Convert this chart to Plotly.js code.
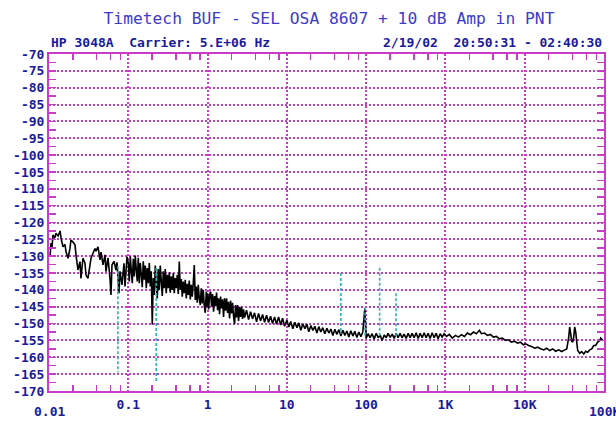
<!DOCTYPE html>
<html><head><meta charset="utf-8">
<script src="https://cdn.plot.ly/plotly-3.0.1.min.js"></script>
<style>html,body{margin:0;padding:0;background:#fff}#chart{width:616px;height:421px}</style>
</head><body><div id="chart"></div>
<script>
// Offset frequency (Hz) of the measured phase-noise trace
const noiseFreq = [
0.0103,0.0106,0.0109,0.0112,0.0119,0.0122,0.0130,0.0138,0.0142,0.0150,
0.0159,0.0164,0.0174,0.0184,0.0189,0.0201,0.0213,0.0219,0.0232,0.0246,
0.0253,0.0268,0.0284,0.0293,0.0310,0.0329,0.0339,0.0359,0.0380,0.0391,
0.0415,0.0440,0.0453,0.0480,0.0509,0.0523,0.0555,0.0588,0.0605,0.0623,
0.0660,0.0700,0.0720,0.0763,0.0786,0.0833,0.0883,0.0909,0.0963,
0.1000,0.1030,0.1060,0.1091,0.1123,0.1156,0.1190,0.1225,0.1261,0.1298,
0.1337,0.1376,0.1417,0.1458,0.1501,0.1545,0.1591,0.1638,0.1687,0.1736,
0.1787,0.1840,0.1894,0.1950,0.2007,0.2066,0.2128,0.2190,0.2255,0.2321,
0.2389,0.2460,0.2532,0.2607,0.2684,0.2763,0.2844,0.2928,0.3014,0.3103,
0.3195,0.3289,0.3386,0.3485,0.3589,0.3693,0.3803,0.3914,0.4031,0.4148,
0.4272,0.4396,0.4527,0.4659,0.4798,0.4937,0.5085,0.5233,0.5389,0.5546,
0.5711,0.5877,0.6052,0.6229,0.6414,0.6601,0.6798,0.6996,0.7204,0.7414,
0.7634,0.7857,0.8091,0.8327,0.8575,0.8825,0.9088,0.9352,0.9630,0.9911,
1.000,1.030,1.060,1.091,1.123,1.156,1.190,1.225,1.261,1.298,
1.337,1.376,1.417,1.458,1.501,1.545,1.591,1.638,1.687,1.736,
1.787,1.840,1.894,1.950,2.007,2.066,2.128,2.190,2.255,2.321,
2.389,2.460,2.532,2.607,2.684,2.763,2.844,2.928,
3.10,3.29,3.49,3.69,3.91,4.15,4.40,4.66,4.94,5.23,
5.55,5.88,6.23,6.60,7.00,7.41,7.86,8.33,8.83,9.35,10.0,
10.6,11.2,11.9,12.6,13.4,14.2,15.0,15.9,16.9,17.9,
18.9,20.1,21.3,22.6,23.9,25.3,26.8,28.4,30.1,32.0,
33.9,35.9,38.0,40.3,42.7,45.3,48.0,50.9,53.9,57.1,
60.5,64.1,68.0,72.0,76.3,80.9,85.8,90.9,96.3,100,
106,112,119,126,134,142,150,159,169,
179,189,201,213,226,239,253,268,284,301,
320,339,359,380,403,427,453,480,509,539,
571,605,641,680,720,763,809,858,909,963,
1030,1120,1220,1340,1460,1590,1740,1890,2070,2260,
2460,2680,2840,3100,3390,3690,4030,4400,4800,5230,
5710,6230,6800,7410,8090,8830,9630,
10300,11200,12200,13400,14600,15900,17400,18900,20700,22600,
24600,26800,29300,32000,33900,35900,36900,38000,39100,40300,
41500,42700,44000,45300,46600,49400,52300,55500,58800,62300,
66000,70000,74100,78600,83300,88300,90900,96300
];
// Phase noise L(f), dBc/Hz
const noiseDb = [
-130.1,-126.1,-127.7,-123.7,-124.5,-123.2,-124.0,-122.5,-124.7,-127.2,
-126.5,-128.7,-130.6,-127.7,-125.2,-125.8,-126.7,-129.6,-134.1,-131.6,
-136.6,-130.6,-132.0,-135.6,-136.6,-132.6,-130.6,-129.1,-127.7,-128.5,
-127.2,-131.1,-128.8,-132.6,-129.6,-134.6,-130.5,-136.6,-141.5,-132.6,
-131.5,-134.1,-131.8,-141.0,-134.5,-138.5,-132.1,-139.0,-130.1,
-132.0,-137.5,-130.0,-134.2,-138.0,-130.8,-136.0,-129.8,-134.0,-137.5,
-130.5,-138.0,-132.0,-135.5,-139.2,-131.5,-137.0,-132.8,-139.5,-133.5,
-138.0,-132.0,-139.0,-134.5,-150.3,-136.5,-141.5,-132.8,-138.5,-142.5,
-133.8,-140.0,-132.8,-137.5,-141.8,-134.5,-139.5,-133.8,-141.0,-135.5,
-139.5,-134.8,-140.8,-136.0,-140.0,-135.0,-141.0,-136.5,-139.5,-135.5,
-141.2,-131.6,-140.0,-136.8,-142.0,-137.5,-141.0,-137.0,-142.5,-138.2,
-141.5,-137.2,-142.8,-138.5,-142.0,-138.0,-132.6,-143.0,-139.0,-143.8,
-138.5,-142.5,-144.5,-139.5,-144.0,-140.0,-144.8,-146.8,-140.5,-145.0,
-141.0,-145.8,-141.5,-140.5,-145.0,-141.2,-146.5,-141.8,-144.8,-140.8,
-146.0,-142.5,-147.2,-142.0,-145.5,-142.8,-148.0,-142.5,-146.2,-142.5,
-146.8,-143.5,-148.5,-143.2,-147.0,-143.8,-147.8,-150.2,-144.5,-148.2,
-144.5,-149.2,-145.0,-148.0,-145.0,-148.6,-145.8,-148.2,
-146.0,-148.8,-146.5,-148.6,-146.8,-149.5,-147.0,-149.2,-147.3,-149.6,
-147.5,-149.7,-147.8,-150.0,-148.0,-150.2,-148.0,-150.4,-148.4,-150.8,-149.0,
-151.0,-149.4,-151.5,-149.6,-151.2,-149.8,-152.0,-150.1,-151.5,-150.2,
-152.4,-150.6,-152.0,-150.8,-152.8,-150.9,-152.5,-151.2,-153.0,-151.4,
-152.8,-151.6,-153.5,-151.7,-153.2,-151.8,-153.7,-152.0,-153.5,-152.2,
-154.0,-152.1,-153.7,-152.3,-154.1,-152.5,-153.9,-152.4,-145.5,-154.3,
-153.0,-154.2,-153.0,-154.6,-152.9,-154.2,-153.4,-155.0,-153.4,
-154.2,-152.9,-154.1,-153.1,-154.4,-152.9,-154.2,-152.9,-154.2,-153.1,
-154.4,-152.9,-154.2,-152.9,-154.2,-152.7,-154.4,-152.9,-154.2,-152.7,
-154.2,-152.9,-154.4,-152.7,-154.2,-152.9,-154.5,-153.0,-154.0,-153.0,
-153.8,-153.2,-154.3,-153.5,-154.0,-153.3,-153.8,-152.8,-153.3,-152.5,
-153.0,-152.0,-153.0,-152.8,-153.5,-153.2,-154.0,-153.8,-154.5,-154.3,
-155.0,-154.8,-155.5,-155.2,-155.8,-155.5,-156.3,
-156.0,-156.5,-156.8,-157.3,-157.0,-157.5,-157.8,-157.3,-158.0,-157.5,
-158.2,-157.8,-158.3,-157.8,-157.5,-154.0,-151.0,-153.0,-155.2,-155.5,
-154.0,-151.0,-152.5,-155.5,-158.0,-158.8,-158.3,-159.0,-158.2,-158.5,
-157.8,-157.5,-156.5,-156.5,-155.5,-155.0,-154.3,-155.0
];
// Discrete spurs (drawn dashed cyan)
const spurFreq   = [0.074, 0.225, 48, 97, 148, 238];
const spurTop    = [-133.0, -133.5, -135.0, -145.2, -133.4, -141.0];
const spurBottom = [-164.5, -167.3, -153.0, -154.0, -154.0, -154.0];

const yTickVals = [-170,-165,-160,-155,-150,-145,-140,-135,-130,-125,-120,-115,-110,-105,-100,-95,-90,-85,-80,-75,-70];
const yTickText = yTickVals.map(v => '-' + Math.abs(v));
const xTickVals = [0.1, 1, 10, 100, 1000, 10000];
const xTickText = ['0.1', '1', '10', '100', '1K', '10K'];
const xMinorVals = [];
[0.01,0.1,1,10,100,1000,10000].forEach(d => [2,4,6,8].forEach(m => xMinorVals.push(d*m)));

const titleText = 'Timetech BUF - SEL OSA 8607 + 10 dB Amp in PNT';
const infoLeft = 'HP 3048A  Carrier: 5.E+06 Hz';
const infoRight = '2/19/02  20:50:31 - 02:40:30';

const spurX = [], spurY = [];
spurFreq.forEach((f, i) => { spurX.push(f, f, null); spurY.push(spurTop[i], spurBottom[i], null); });

const MAG = '#c83cc8';
const LBL = '#1a1a9c';
const monoFont = 'DejaVu Sans Mono, Liberation Mono, monospace';

const traces = [
  {x: noiseFreq, y: noiseDb, type: 'scatter', mode: 'lines', line: {color: '#000', width: 1.6, simplify: false}, hoverinfo: 'skip'},
  {x: spurX, y: spurY, type: 'scatter', mode: 'lines', connectgaps: false,
   line: {color: '#2ab5b5', width: 1.6, dash: '3px,2px', simplify: false}, hoverinfo: 'skip'}
];

const layout = {
  width: 616, height: 421,
  margin: {l: 49, r: 12, t: 54, b: 30, pad: 0},
  paper_bgcolor: '#fff', plot_bgcolor: '#fff',
  showlegend: false,
  title: {text: titleText, x: 0.5045, xref: 'paper', xanchor: 'center', y: 1 - 18/421, yref: 'container', yanchor: 'middle',
          font: {family: monoFont, size: 16.3, color: '#3c3cc8'}},
  xaxis: {
    type: 'log', range: [-2, 5], autorange: false,
    tickmode: 'array', tickvals: xTickVals, ticktext: xTickText,
    ticks: '', showline: true, linecolor: MAG, linewidth: 2, mirror: 'ticks',
    showgrid: true, gridcolor: MAG, gridwidth: 2, griddash: '2px,2px',
    tickfont: {family: monoFont, size: 13, color: LBL, weight: 'bold'},
    minor: {tickmode: 'array', tickvals: xMinorVals, ticks: 'inside', ticklen: 6, tickwidth: 1.5, tickcolor: MAG, showgrid: false},
    zeroline: false, fixedrange: true
  },
  yaxis: {
    range: [-170, -70], autorange: false,
    tickmode: 'array', tickvals: yTickVals, ticktext: yTickText,
    ticks: 'inside', ticklen: 7, tickwidth: 1.5, tickcolor: MAG,
    showline: true, linecolor: MAG, linewidth: 2, mirror: 'ticks',
    showgrid: true, gridcolor: MAG, gridwidth: 2, griddash: '2px,2px',
    tickfont: {family: monoFont, size: 13, color: LBL, weight: 'bold'},
    minor: {tickmode: 'linear', tick0: -170, dtick: 2.5, ticks: 'inside', ticklen: 7, tickwidth: 1.5, tickcolor: MAG, showgrid: false},
    zeroline: false, fixedrange: true
  },
  annotations: [
    {text: '<b>' + infoLeft + '</b>', xref: 'paper', yref: 'paper', x: 0, y: (391-42)/337, xanchor: 'left', yanchor: 'middle', showarrow: false,
     font: {family: monoFont, size: 13, color: LBL}},
    {text: '<b>' + infoRight + '</b>', xref: 'paper', yref: 'paper', x: 1, y: (391-42)/337, xanchor: 'right', yanchor: 'middle', showarrow: false,
     font: {family: monoFont, size: 13, color: LBL}},
    {text: '<b>0.01</b>', xref: 'x', yref: 'paper', x: -2, y: -20/337, xanchor: 'center', yanchor: 'middle', showarrow: false,
     font: {family: monoFont, size: 13, color: LBL}},
    {text: '<b>100K</b>', xref: 'x', yref: 'paper', x: 5, y: -20/337, xanchor: 'center', yanchor: 'middle', showarrow: false,
     font: {family: monoFont, size: 13, color: LBL}}
  ]
};

Plotly.newPlot('chart', traces, layout, {staticPlot: true, displayModeBar: false});
</script>
</body></html>
